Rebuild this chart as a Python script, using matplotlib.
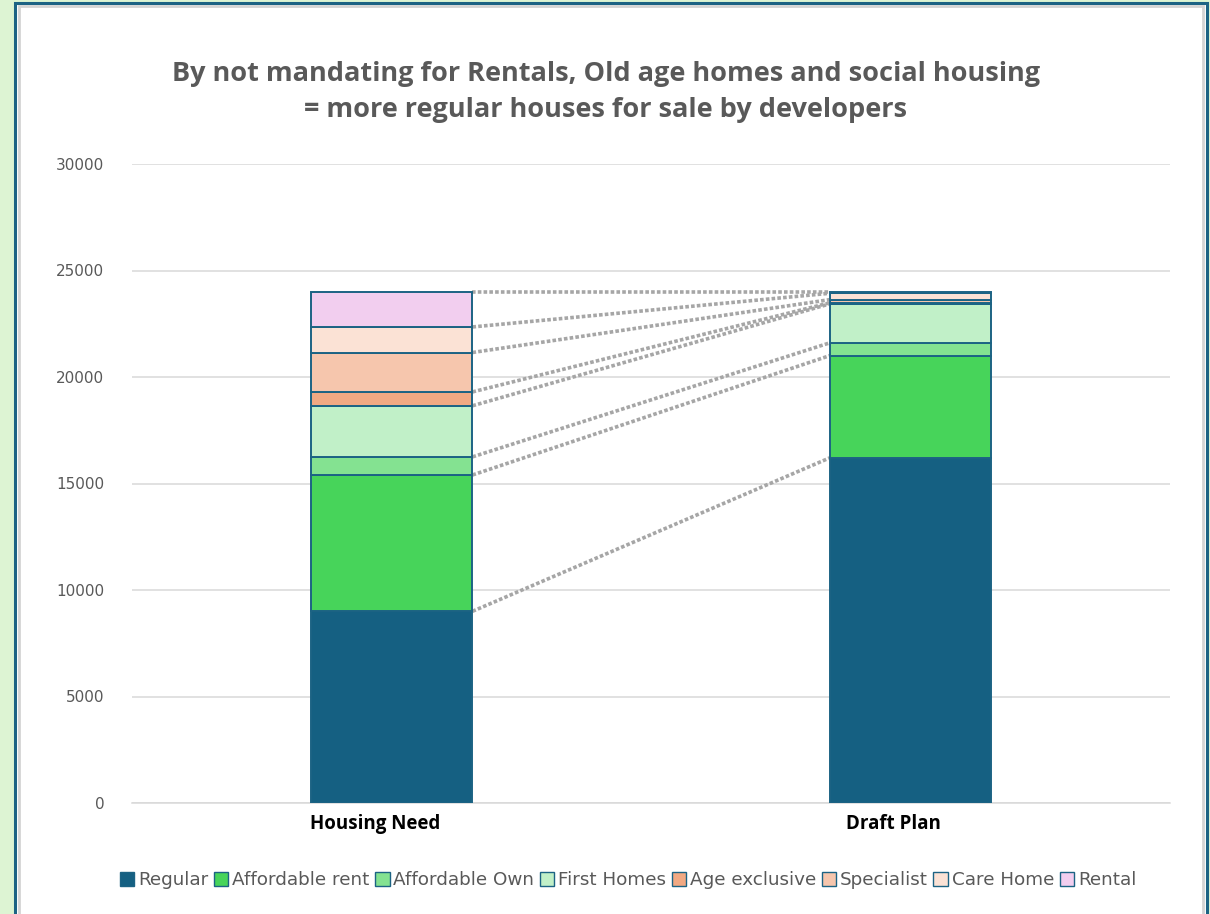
import matplotlib
matplotlib.use("Agg")
import matplotlib.pyplot as plt
from matplotlib.patches import Rectangle, Patch

# Data
categories = ["Housing Need", "Draft Plan"]
series = ["Regular", "Affordable rent", "Affordable Own", "First Homes",
          "Age exclusive", "Specialist", "Care Home", "Rental"]
housing_need = [9000, 6400, 850, 2400, 650, 1850, 1200, 1650]
draft_plan = [16200, 4800, 600, 1830, 50, 150, 300, 70]
colors = ["#156082", "#47D45A", "#84E291", "#C1F0C8",
          "#F1A983", "#F6C6AD", "#FBE2D5", "#F2CEEF"]
yticks = [0, 5000, 10000, 15000, 20000, 25000, 30000]

W, H = 1210, 914
fig = plt.figure(figsize=(W / 100, H / 100), dpi=100)
fig.patch.set_facecolor("#DDF4D3")

# white panel with teal + grey frame
def fx(px):
    return px / W

def fy(py):
    return 1 - py / H

fig.patches.append(Rectangle((fx(15), fy(930)), fx(1207) - fx(15), fy(3) - fy(930),
                             transform=fig.transFigure, facecolor="white",
                             edgecolor="#1C6384", linewidth=2.2, zorder=-2))
fig.patches.append(Rectangle((fx(18.5), fy(930)), fx(1203) - fx(18.5), fy(6.5) - fy(930),
                             transform=fig.transFigure, facecolor="none",
                             edgecolor="#D4D4D4", linewidth=2, zorder=-1))

ax = fig.add_axes([fx(132), fy(803), fx(1170) - fx(132), fy(164) - fy(803)])
ax.set_facecolor("none")

x = [0, 1]
width = 0.312
edge = "#1C6384"
bottoms = [0, 0]
tops = []
for i, name in enumerate(series):
    vals = [housing_need[i], draft_plan[i]]
    ax.bar(x, vals, width, bottom=bottoms, color=colors[i], edgecolor=edge,
           linewidth=1.4, label=name, zorder=3)
    bottoms = [bottoms[0] + vals[0], bottoms[1] + vals[1]]
    tops.append(list(bottoms))

# dotted connectors between matching segment tops
for t in tops:
    ax.plot([x[0] + width / 2, x[1] - width / 2], [t[0], t[1]], linestyle=(0, (1, 0.6)),
            color="#A6A6A6", linewidth=2.6, zorder=2)

ax.set_xlim(-0.5, 1.5)
ax.set_ylim(0, 30000)
ax.set_yticks(yticks)
ax.set_yticklabels([str(v) for v in yticks], fontsize=11, color="#595959")
# category labels sit a little left of the bar centres in the original
ax.set_xticks([v - 0.032 for v in x])
ax.set_xticklabels(categories, fontsize=13.5, fontweight="bold", color="black",
                   fontfamily="Open Sans")
ax.tick_params(axis="both", length=0)
ax.tick_params(axis="y", pad=20)
ax.tick_params(axis="x", pad=8)
ax.grid(axis="y", color="#D9D9D9", linewidth=1.1, zorder=0)
for s in ["top", "right", "left"]:
    ax.spines[s].set_visible(False)
ax.spines["bottom"].set_color("#D9D9D9")
ax.spines["bottom"].set_linewidth(1.1)

fig.text(fx(606), fy(92),
         "By not mandating for Rentals, Old age homes and social housing\n= more regular houses for sale by developers",
         ha="center", va="center", fontsize=19.5, fontweight="bold", color="#595959",
         fontfamily="Open Sans", linespacing=1.5)

handles = [Patch(facecolor=c, edgecolor=edge, linewidth=1.0) for c in colors]
fig.legend(handles, series, loc="center", bbox_to_anchor=(fx(628), fy(880)),
           ncol=len(series), frameon=False, handlelength=0.8,
           handleheight=0.8, handletextpad=0.2, columnspacing=0.3,
           labelcolor="#595959", prop={"size": 13.2})

fig.savefig("out.png", dpi=100, facecolor=fig.get_facecolor())
